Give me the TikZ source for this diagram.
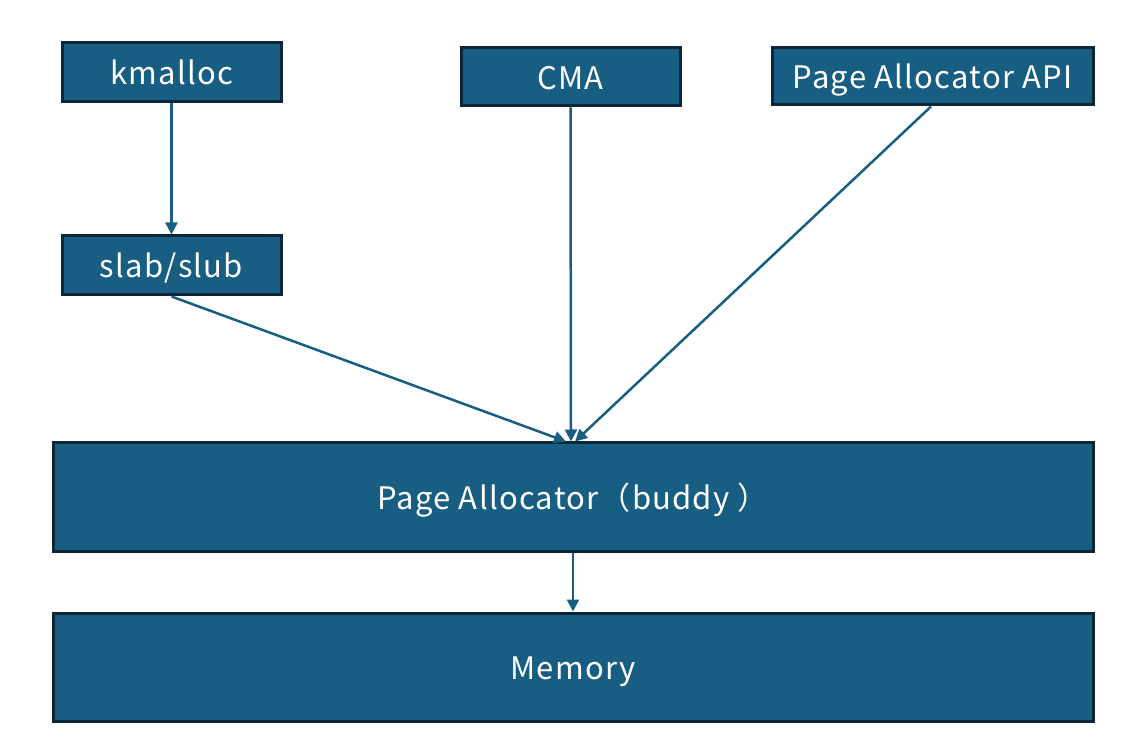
\documentclass[tikz,border=0pt]{standalone}
\usepackage{fontspec}
\setmainfont[LetterSpace=4]{Noto Sans CJK SC}
\usetikzlibrary{arrows.meta}
\definecolor{boxfill}{RGB}{23,94,130}
\definecolor{boxline}{RGB}{12,38,54}
\definecolor{arrowcol}{RGB}{23,94,130}
\begin{document}
\begin{tikzpicture}[x=1pt,y=1pt,
  blk/.style={draw=boxline,line width=3pt,fill=boxfill,text=white,inner sep=0pt,text height=29pt,text depth=4pt,font=\fontsize{31}{34}\selectfont},
  conn/.style={draw=arrowcol,line width=2.5pt,-{Triangle[length=12pt,width=12pt]}}]
\useasboundingbox (0,0) rectangle (1124,753);
\node[blk,minimum width=219pt,minimum height=59pt] (km) at (171.5,680.5) {kmalloc};
\node[blk,minimum width=219pt,minimum height=58pt] (cma) at (570.5,676) {CMA};
\node[blk,minimum width=321pt,minimum height=57pt] (api) at (932.5,676.5) {Page Allocator API};
\node[blk,minimum width=219pt,minimum height=59pt] (slab) at (171.5,487.5) {slab/slub};
\node[blk,minimum width=1040pt,minimum height=108pt] (pa) at (573,256) {Page Allocator（buddy ）};
\node[blk,minimum width=1040pt,minimum height=108pt] (mem) at (573,86) {Memory};
\draw[conn] (km.south) -- (slab.north);
\draw[conn] (slab.south) -- ([xshift=-7pt]pa.north);
\draw[conn] (cma.south) -- ([xshift=-2pt]pa.north);
\draw[conn] ([xshift=-1.5pt]api.south) -- ([xshift=2pt]pa.north);
\draw[conn] (pa.south) -- (mem.north);
\end{tikzpicture}
\end{document}
